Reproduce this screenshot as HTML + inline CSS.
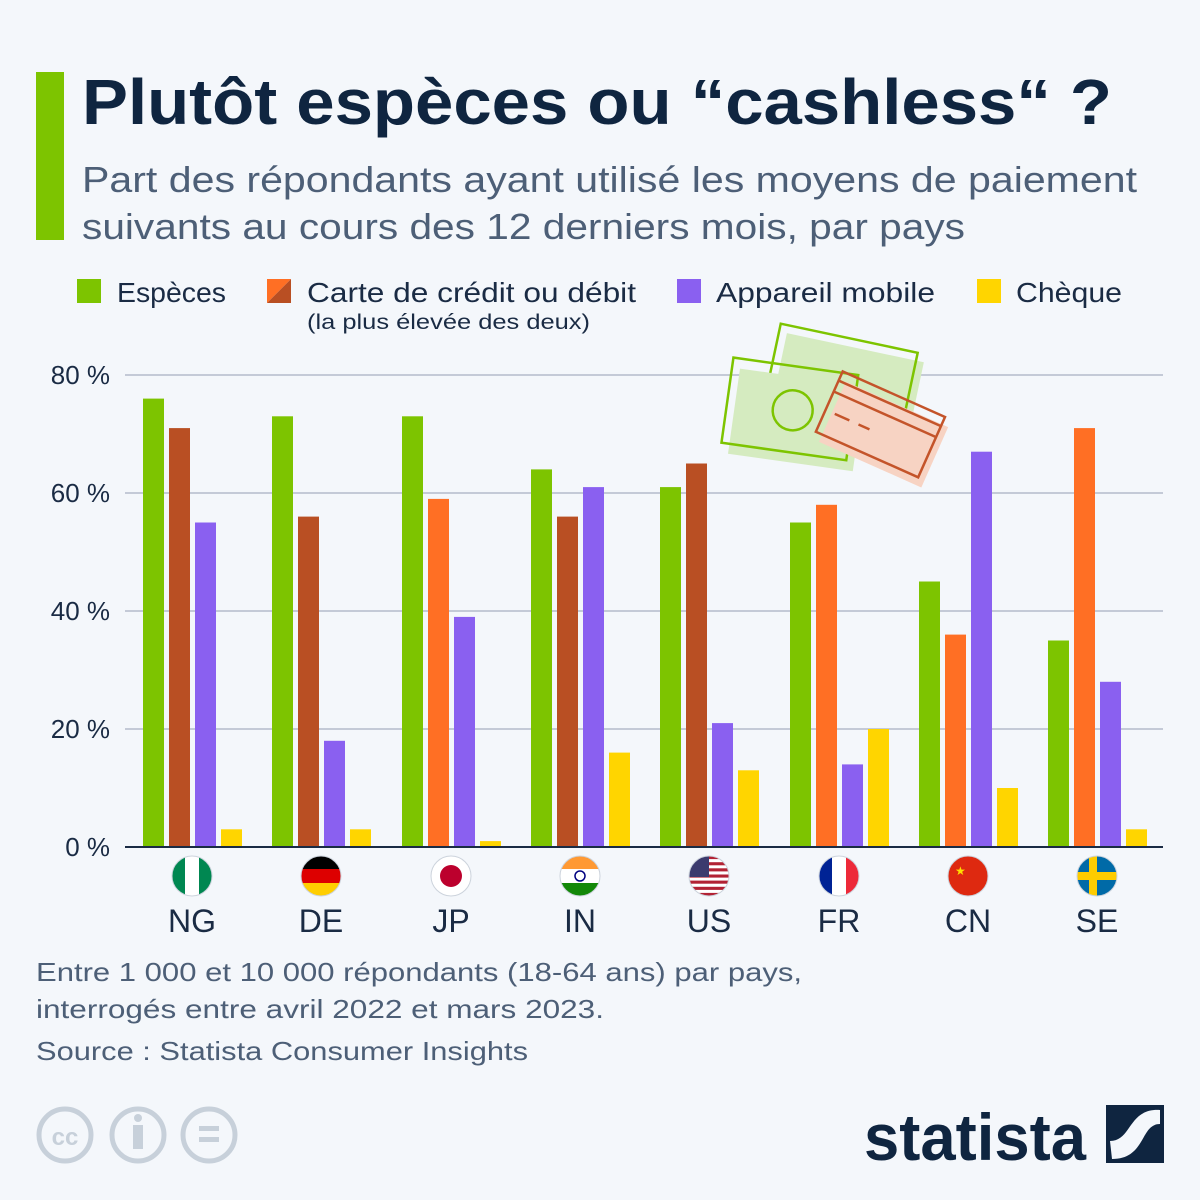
<!DOCTYPE html>
<html><head><meta charset="utf-8"><style>
body{margin:0;background:#f4f7fb;}
svg{display:block;font-family:"Liberation Sans",sans-serif;}
</style></head><body>
<svg width="1200" height="1200" viewBox="0 0 1200 1200" xmlns="http://www.w3.org/2000/svg">
<rect width="1200" height="1200" fill="#f4f7fb"/>
<rect x="36" y="72" width="28" height="168" fill="#7dc400"/>
<text x="82" y="124" font-size="64" font-weight="bold" fill="#0f2540" textLength="1030" lengthAdjust="spacingAndGlyphs">Plutôt espèces ou “cashless“ ?</text>
<text x="82" y="192" font-size="36" fill="#4d5f77" textLength="1055" lengthAdjust="spacingAndGlyphs">Part des répondants ayant utilisé les moyens de paiement</text>
<text x="82" y="239" font-size="36" fill="#4d5f77" textLength="883" lengthAdjust="spacingAndGlyphs">suivants au cours des 12 derniers mois, par pays</text>
<g font-size="28" fill="#1a2b44">
<rect x="77" y="279" width="24" height="24" fill="#7dc400"/><text x="117" y="302" textLength="109" lengthAdjust="spacingAndGlyphs">Espèces</text>
<polygon points="267,279 291,279 267,303" fill="#ff6f24"/><polygon points="291,279 291,303 267,303" fill="#b94f23"/>
<text x="307" y="302" textLength="329" lengthAdjust="spacingAndGlyphs">Carte de crédit ou débit</text>
<text x="307" y="329" font-size="21" textLength="283" lengthAdjust="spacingAndGlyphs">(la plus élevée des deux)</text>
<rect x="677" y="279" width="24" height="24" fill="#8a60f0"/><text x="716" y="302" textLength="219" lengthAdjust="spacingAndGlyphs">Appareil mobile</text>
<rect x="977" y="279" width="24" height="24" fill="#ffd500"/><text x="1016" y="302" textLength="106" lengthAdjust="spacingAndGlyphs">Chèque</text>
</g>
<g stroke="#b4bccb" stroke-width="1.5">
<line x1="125" x2="1163" y1="375" y2="375"/><line x1="125" x2="1163" y1="493" y2="493"/>
<line x1="125" x2="1163" y1="611" y2="611"/><line x1="125" x2="1163" y1="729" y2="729"/>
</g>
<g font-size="26" fill="#1a2b44" text-anchor="end">
<text x="110" y="384">80 %</text><text x="110" y="502">60 %</text><text x="110" y="620">40 %</text><text x="110" y="738">20 %</text><text x="110" y="856">0 %</text>
</g>
<g stroke-width="2.5">
<g transform="rotate(12 832 400)">
<rect x="770" y="340" width="140" height="72" fill="#d5ebc0" transform="translate(4,4)"/>
<rect x="766" y="336" width="140" height="72" fill="none" stroke="#7dc400"/>
</g>
<g transform="rotate(8 790 415)">
<rect x="730" y="370" width="126" height="86" fill="#d5ebc0" transform="translate(4,6)"/>
<rect x="726" y="366" width="126" height="86" fill="none" stroke="#7dc400"/>
<circle cx="792" cy="410" r="20" fill="none" stroke="#7dc400"/>
</g>
<g transform="rotate(24 878 420)">
<rect x="828" y="392" width="112" height="66" fill="#f7d3c3" transform="translate(5,6)"/>
<rect x="826" y="390" width="112" height="66" fill="none" stroke="#c4542a"/>
<line x1="826" y1="400" x2="938" y2="400" stroke="#c4542a"/>
<line x1="826" y1="412" x2="938" y2="412" stroke="#c4542a"/>
<line x1="836" y1="432" x2="852" y2="432" stroke="#c4542a"/>
<line x1="862" y1="432" x2="874" y2="432" stroke="#c4542a"/>
</g>
</g>
<!-- bars -->
<g>
<rect x="143" y="398.6" width="21" height="448.4" fill="#7dc400"/><rect x="169" y="428.1" width="21" height="418.9" fill="#b94f23"/><rect x="195" y="522.5" width="21" height="324.5" fill="#8a60f0"/><rect x="221" y="829.3" width="21" height="17.7" fill="#ffd500"/>
<rect x="272" y="416.3" width="21" height="430.7" fill="#7dc400"/><rect x="298" y="516.6" width="21" height="330.4" fill="#b94f23"/><rect x="324" y="740.8" width="21" height="106.2" fill="#8a60f0"/><rect x="350" y="829.3" width="21" height="17.7" fill="#ffd500"/>
<rect x="402" y="416.3" width="21" height="430.7" fill="#7dc400"/><rect x="428" y="498.9" width="21" height="348.1" fill="#ff6f24"/><rect x="454" y="616.9" width="21" height="230.1" fill="#8a60f0"/><rect x="480" y="841.1" width="21" height="5.9" fill="#ffd500"/>
<rect x="531" y="469.4" width="21" height="377.6" fill="#7dc400"/><rect x="557" y="516.6" width="21" height="330.4" fill="#b94f23"/><rect x="583" y="487.1" width="21" height="359.9" fill="#8a60f0"/><rect x="609" y="752.6" width="21" height="94.4" fill="#ffd500"/>
<rect x="660" y="487.1" width="21" height="359.9" fill="#7dc400"/><rect x="686" y="463.5" width="21" height="383.5" fill="#b94f23"/><rect x="712" y="723.1" width="21" height="123.9" fill="#8a60f0"/><rect x="738" y="770.3" width="21" height="76.7" fill="#ffd500"/>
<rect x="790" y="522.5" width="21" height="324.5" fill="#7dc400"/><rect x="816" y="504.8" width="21" height="342.2" fill="#ff6f24"/><rect x="842" y="764.4" width="21" height="82.6" fill="#8a60f0"/><rect x="868" y="729" width="21" height="118" fill="#ffd500"/>
<rect x="919" y="581.5" width="21" height="265.5" fill="#7dc400"/><rect x="945" y="634.6" width="21" height="212.4" fill="#ff6f24"/><rect x="971" y="451.7" width="21" height="395.3" fill="#8a60f0"/><rect x="997" y="788" width="21" height="59" fill="#ffd500"/>
<rect x="1048" y="640.5" width="21" height="206.5" fill="#7dc400"/><rect x="1074" y="428.1" width="21" height="418.9" fill="#ff6f24"/><rect x="1100" y="681.8" width="21" height="165.2" fill="#8a60f0"/><rect x="1126" y="829.3" width="21" height="17.7" fill="#ffd500"/>
</g>
<line x1="125" x2="1163" y1="847" y2="847" stroke="#1a2b44" stroke-width="2"/>
<defs>
<clipPath id="c0"><circle cx="192" cy="876" r="20"/></clipPath>
<clipPath id="c1"><circle cx="321" cy="876" r="20"/></clipPath>
<clipPath id="c2"><circle cx="451" cy="876" r="20"/></clipPath>
<clipPath id="c3"><circle cx="580" cy="876" r="20"/></clipPath>
<clipPath id="c4"><circle cx="709" cy="876" r="20"/></clipPath>
<clipPath id="c5"><circle cx="839" cy="876" r="20"/></clipPath>
<clipPath id="c6"><circle cx="968" cy="876" r="20"/></clipPath>
<clipPath id="c7"><circle cx="1097" cy="876" r="20"/></clipPath>
</defs>
<g clip-path="url(#c0)"><rect x="172" y="856" width="40" height="40" fill="#fff"/><rect x="172" y="856" width="13" height="40" fill="#008751"/><rect x="199" y="856" width="13" height="40" fill="#008751"/></g>
<g clip-path="url(#c1)"><rect x="301" y="856" width="40" height="14" fill="#000"/><rect x="301" y="869" width="40" height="14" fill="#dd0000"/><rect x="301" y="883" width="40" height="13" fill="#ffce00"/></g>
<g clip-path="url(#c2)"><rect x="431" y="856" width="40" height="40" fill="#fff"/><circle cx="451" cy="876" r="11" fill="#bc002d"/></g>
<g clip-path="url(#c3)"><rect x="560" y="856" width="40" height="14" fill="#ff9933"/><rect x="560" y="869" width="40" height="14" fill="#fff"/><rect x="560" y="883" width="40" height="13" fill="#138808"/><circle cx="580" cy="876" r="5" fill="none" stroke="#000080" stroke-width="1.5"/></g>
<g clip-path="url(#c4)"><rect x="689" y="856" width="40" height="40" fill="#fff"/>
<rect x="689" y="856" width="40" height="3.1" fill="#b22234"/><rect x="689" y="862.2" width="40" height="3.1" fill="#b22234"/><rect x="689" y="868.3" width="40" height="3.1" fill="#b22234"/><rect x="689" y="874.5" width="40" height="3.1" fill="#b22234"/><rect x="689" y="880.6" width="40" height="3.1" fill="#b22234"/><rect x="689" y="886.8" width="40" height="3.1" fill="#b22234"/><rect x="689" y="892.9" width="40" height="3.1" fill="#b22234"/>
<rect x="689" y="856" width="20" height="21" fill="#3c3b6e"/></g>
<g clip-path="url(#c5)"><rect x="819" y="856" width="14" height="40" fill="#002395"/><rect x="832" y="856" width="14" height="40" fill="#fff"/><rect x="846" y="856" width="13" height="40" fill="#ed2939"/></g>
<g clip-path="url(#c6)"><rect x="948" y="856" width="40" height="40" fill="#de2910"/><text x="955" y="875" font-size="12" fill="#ffde00">★</text></g>
<g clip-path="url(#c7)"><rect x="1077" y="856" width="40" height="40" fill="#006aa7"/><rect x="1077" y="872" width="40" height="8" fill="#fecc00"/><rect x="1089" y="856" width="8" height="40" fill="#fecc00"/></g>
<g fill="none" stroke="#ccd3dc" stroke-width="1">
<circle cx="192" cy="876" r="20"/><circle cx="321" cy="876" r="20"/><circle cx="451" cy="876" r="20"/><circle cx="580" cy="876" r="20"/><circle cx="709" cy="876" r="20"/><circle cx="839" cy="876" r="20"/><circle cx="968" cy="876" r="20"/><circle cx="1097" cy="876" r="20"/>
</g>
<g font-size="32" fill="#1a2b44" text-anchor="middle">
<text x="192" y="932">NG</text><text x="321" y="932">DE</text><text x="451" y="932">JP</text><text x="580" y="932">IN</text><text x="709" y="932">US</text><text x="839" y="932">FR</text><text x="968" y="932">CN</text><text x="1097" y="932">SE</text>
</g>
<g font-size="26" fill="#4d5f77">
<text x="36" y="981" textLength="766" lengthAdjust="spacingAndGlyphs">Entre 1 000 et 10 000 répondants (18-64 ans) par pays,</text>
<text x="36" y="1018" textLength="568" lengthAdjust="spacingAndGlyphs">interrogés entre avril 2022 et mars 2023.</text>
<text x="36" y="1060" textLength="492" lengthAdjust="spacingAndGlyphs">Source : Statista Consumer Insights</text>
</g>
<g fill="none" stroke="#c7d0da" stroke-width="5">
<circle cx="65" cy="1135" r="26"/><circle cx="138" cy="1135" r="26"/><circle cx="209" cy="1135" r="26"/>
</g>
<text x="65" y="1145" font-size="24" font-weight="bold" fill="#c7d0da" text-anchor="middle">cc</text>
<circle cx="138" cy="1118" r="4" fill="#c7d0da"/><rect x="133" y="1125" width="10" height="24" fill="#c7d0da"/>
<rect x="199" y="1126" width="20" height="5" fill="#c7d0da"/><rect x="199" y="1137" width="20" height="5" fill="#c7d0da"/>
<text x="1086" y="1160" font-size="66" font-weight="bold" fill="#0f2540" text-anchor="end" textLength="222" lengthAdjust="spacingAndGlyphs">statista</text>
<rect x="1106" y="1105" width="58" height="58" fill="#0f2540"/>
<path d="M1110 1141 C1132 1141 1128 1108 1160 1110 L1160 1124 C1140 1124 1146 1159 1112 1159Z" fill="#f4f7fb"/>
</svg>
</body></html>
